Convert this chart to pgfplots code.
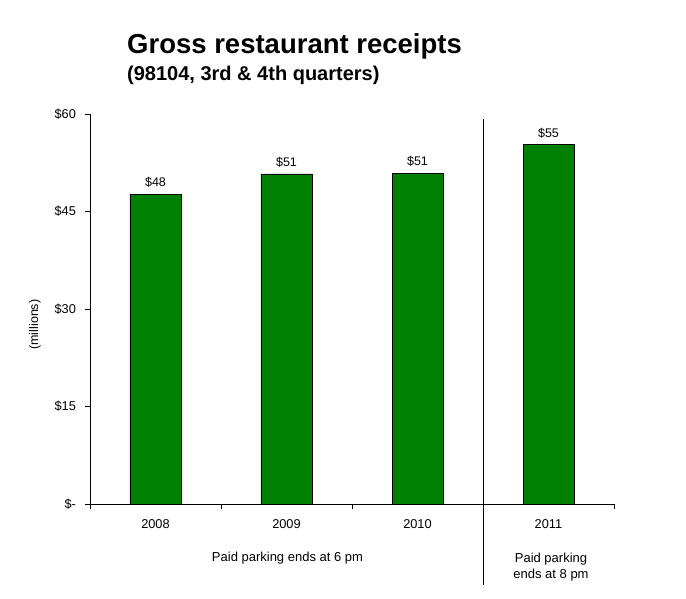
\documentclass[border=0pt]{standalone}
\usepackage{pgfplots}
\pgfplotsset{compat=1.18}
\usepackage{fontspec}
\setmainfont{Liberation Sans}
\definecolor{bargreen}{RGB}{0,128,0}
\begin{document}
\begin{tikzpicture}[x=1pt,y=1pt]
\useasboundingbox (-90,-94) rectangle (596,504);
\begin{axis}[
  at={(0,0)}, anchor=south west,
  scale only axis, width=524pt, height=390pt,
  xmin=-0.5, xmax=3.5, ymin=0, ymax=60,
  axis x line*=bottom, axis y line*=left,
  axis line style={-},
  tick align=outside,
  xtick={0,1,2,3}, xticklabels={2008,2009,2010,2011},
  major x tick style={draw=none},
  minor xtick={-0.5,0.5,1.5,2.5,3.5},
  minor tick length=5pt,
  minor x tick style={black},
  ytick={0,15,30,45,60},
  yticklabels={\$-,\$15,\$30,\$45,\$60},
  major tick length=5pt,
  tick style={black},
  ticklabel style={font=\fontsize{12.8}{15}\selectfont},
  xticklabel style={yshift=-7pt},
  yticklabel style={xshift=-5.5pt},
  ylabel={(millions)},
  every axis y label/.style={at={(axis description cs:-0.105,0.46)}, rotate=90, anchor=center, font=\fontsize{12.5}{15}\selectfont},
  ybar, bar width=51pt,
  point meta=explicit symbolic,
  nodes near coords={\$\pgfplotspointmeta},
  nodes near coords style={font=\fontsize{12.5}{15}\selectfont, yshift=3pt},
  clip=false,
]
\addplot[fill=bargreen, draw=black, line width=0.6pt] coordinates {
  (0,47.65) [48]
  (1,50.8) [51]
  (2,50.9) [51]
  (3,55.3) [55]
};
\draw[black, line width=0.6pt] (axis cs:2.5,59.2) -- (axis cs:2.5,-12.5);
\end{axis}
\node[anchor=base west, font=\bfseries\fontsize{27.5}{32}\selectfont, inner sep=0] at (37,450) {Gross restaurant receipts};
\node[anchor=base west, font=\bfseries\fontsize{20}{24}\selectfont, inner sep=0] at (37,423) {(98104, 3rd \& 4th quarters)};
\node[font=\fontsize{13}{15}\selectfont, inner sep=0, anchor=base] at (197.5,-57.5) {Paid parking ends at 6 pm};
\node[font=\fontsize{13}{15}\selectfont, inner sep=0, anchor=base] at (461,-58.3) {Paid parking};
\node[font=\fontsize{13}{15}\selectfont, inner sep=0, anchor=base] at (461,-74.3) {ends at 8 pm};
\end{tikzpicture}
\end{document}
